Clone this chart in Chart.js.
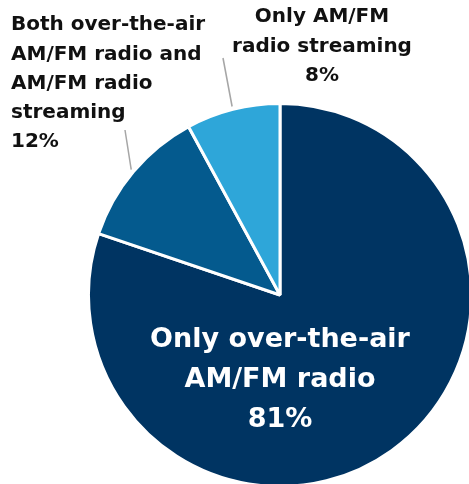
<!DOCTYPE html>
<html>
<head>
<meta charset="utf-8">
<script src="https://cdn.jsdelivr.net/npm/chart.js@4"></script>
<style>
  html, body { margin: 0; padding: 0; background: #fff; overflow: hidden; }
  #wrap { width: 469px; height: 484px; position: relative; overflow: hidden; }
</style>
</head>
<body>
<div id="wrap"><canvas id="myChart"></canvas></div>
<script>
const labels = [
    'Only over-the-air AM/FM radio',
    'Both over-the-air AM/FM radio and AM/FM radio streaming',
    'Only AM/FM radio streaming'
];
const shares = [81, 12, 8];
const colors = ['#003462', '#045a8e', '#2ea6d9'];

// label text broken into lines the way the picture shows them
const labelLines = [
    ['Only over-the-air', 'AM/FM radio', '81%'],
    ['Both over-the-air', 'AM/FM radio and', 'AM/FM radio', 'streaming', '12%'],
    ['Only AM/FM', 'radio streaming', '8%']
];

const FONT = '"DejaVu Sans", sans-serif';

const labelPlugin = {
    id: 'pieLabels',
    afterDraw(chart) {
        const ctx = chart.ctx;
        const arcs = chart.getDatasetMeta(0).data;
        const cx = arcs[0].x, cy = arcs[0].y, r = arcs[0].outerRadius;

        ctx.save();
        ctx.textBaseline = 'middle';

        // big slice: label inside, white
        ctx.fillStyle = '#ffffff';
        ctx.font = 'bold 27px ' + FONT;
        ctx.textAlign = 'center';
        labelLines[0].forEach((t, i) => {
            ctx.fillText(t, cx, cy + 45 + i * 40);
        });

        // leader lines from slice middles
        const outer = [
            { idx: 1, end: [125, 130] },
            { idx: 2, end: [223, 58] }
        ];
        ctx.strokeStyle = '#a6a6a6';
        ctx.lineWidth = 1.5;
        outer.forEach(o => {
            const a = arcs[o.idx];
            const mid = (a.startAngle + a.endAngle) / 2;
            const sx = cx + Math.cos(mid) * (r + 3);
            const sy = cy + Math.sin(mid) * (r + 3);
            ctx.beginPath();
            ctx.moveTo(sx, sy);
            ctx.lineTo(o.end[0], o.end[1]);
            ctx.stroke();
        });

        ctx.fillStyle = '#111111';
        ctx.font = 'bold 20px ' + FONT;
        ctx.textAlign = 'left';
        labelLines[1].forEach((t, i) => {
            ctx.fillText(t, 11, 25 + i * 29.3);
        });
        ctx.textAlign = 'center';
        labelLines[2].forEach((t, i) => {
            ctx.fillText(t, 322, 17 + i * 29.5);
        });
        ctx.restore();
    }
};

const data = {
    labels: labels,
    datasets: [{
        data: shares,
        backgroundColor: colors,
        borderColor: '#ffffff',
        borderWidth: 3
    }]
};

const config = {
    type: 'pie',
    data: data,
    options: {
        responsive: false,
        animation: false,
        layout: { padding: { left: 87, top: 102, right: 2, bottom: 0 } },
        plugins: {
            legend: { display: false },
            tooltip: { enabled: false }
        }
    },
    plugins: [labelPlugin]
};

const canvas = document.getElementById('myChart');
canvas.width = 475;
canvas.height = 488;
const myChart = new Chart(canvas, config);
</script>
</body>
</html>
